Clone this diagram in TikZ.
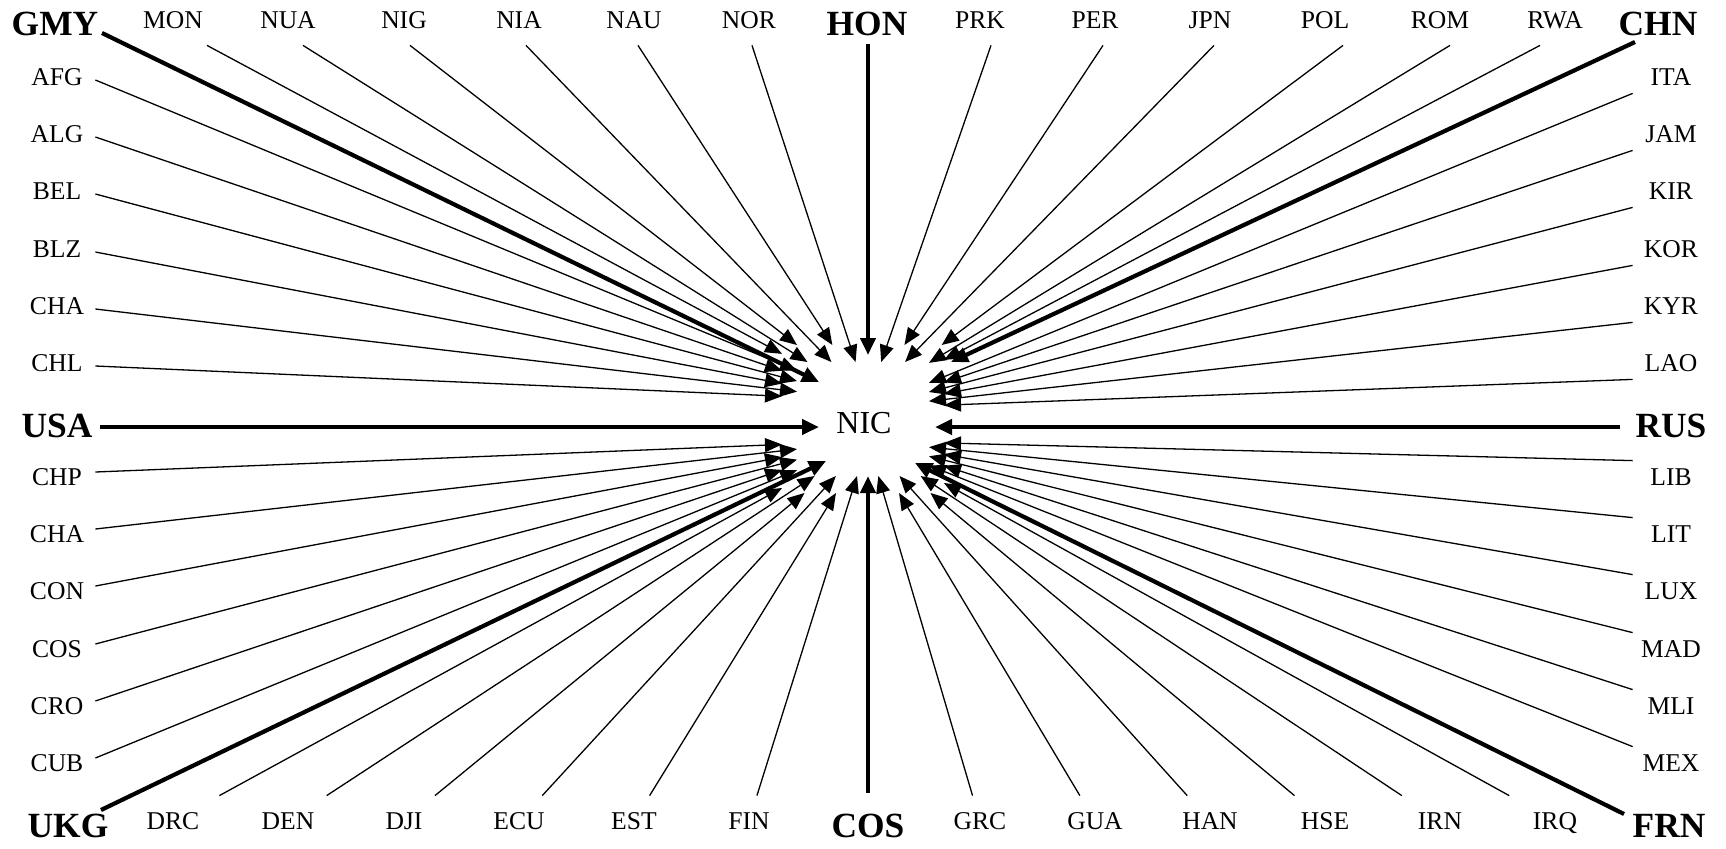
\documentclass[tikz,border=0pt]{standalone}
\usepackage{fontspec}
\setmainfont{Liberation Serif}
\usetikzlibrary{arrows.meta,calc,intersections}

% one spoke: from a start point towards an aim point, cut where it meets the given ring round NIC
\newcommand\spoke[4]{%
  \path[name path=spk] (#2) -- (#3);
  \path[name intersections={of=#4 and spk,by=tip}];
  \draw[spokeline,#1] (#2) -- (tip);
}

\begin{document}
\begin{tikzpicture}[x=0.5pt,y=-0.5pt,
  lbl/.style={font=\fontsize{12.8pt}{15pt}\selectfont, inner sep=0pt, text height=8.5pt, text depth=0pt},
  side/.style={lbl, minimum width=38pt, minimum height=16pt},
  rowlbl/.style={lbl, minimum width=60pt, minimum height=25pt},
  big/.style={font=\fontsize{17.7pt}{20pt}\selectfont\bfseries, inner sep=0pt, text height=11.7pt, text depth=0pt},
  spokeline/.style={line width=0.65pt, -{Triangle[length=8.5pt,width=7pt]}},
  heavy/.style={line width=2.1pt, -{Triangle[length=8.5pt,width=7.5pt]}}]

\useasboundingbox (0,0) rectangle (1726,848);

% centre and the two rings where the arrow tips stop
\node[font=\fontsize{16pt}{19pt}\selectfont, inner sep=0pt] (NIC) at (864,423) {NIC};
\path[name path=ringIn]  (797,362) rectangle (929,476);
\path[name path=ringOut] (782,345) rectangle (944,493);
\coordinate (aimT) at (868,400);
\coordinate (aimR) at (868,408);
\coordinate (aimB) at (868,441);

% bold corner and axis labels
\node[big] (GMY) at (55,24) {GMY};
\node[big] (HON) at (867,24) {HON};
\node[big] (CHN) at (1658,24) {CHN};
\node[big] (USA) at (57,426) {USA};
\node[big] (RUS) at (1671,426) {RUS};
\node[big] (UKG) at (68,826) {UKG};
\node[big] (COSb) at (868,826) {COS};
\node[big] (FRN) at (1669,826) {FRN};

% left column
\node[side] (AFG)  at (57,77)  {AFG};
\node[side] (ALG)  at (57,134) {ALG};
\node[side] (BEL)  at (57,191) {BEL};
\node[side] (BLZ)  at (57,249) {BLZ};
\node[side] (CHAa) at (57,306) {CHA};
\node[side] (CHL)  at (57,363) {CHL};
\node[side] (CHP)  at (57,477) {CHP};
\node[side] (CHAb) at (57,534) {CHA};
\node[side] (CON)  at (57,591) {CON};
\node[side] (COSa) at (57,649) {COS};
\node[side] (CRO)  at (57,706) {CRO};
\node[side] (CUB)  at (57,763) {CUB};

% right column
\node[side] (ITA) at (1671,77)  {ITA};
\node[side] (JAM) at (1671,134) {JAM};
\node[side] (KIR) at (1671,191) {KIR};
\node[side] (KOR) at (1671,249) {KOR};
\node[side] (KYR) at (1671,306) {KYR};
\node[side] (LAO) at (1671,363) {LAO};
\node[side] (LIB) at (1671,477) {LIB};
\node[side] (LIT) at (1671,534) {LIT};
\node[side] (LUX) at (1671,591) {LUX};
\node[side] (MAD) at (1671,649) {MAD};
\node[side] (MLI) at (1671,706) {MLI};
\node[side] (MEX) at (1671,763) {MEX};

% top row
\node[rowlbl] (MON) at (173,20)  {MON};
\node[rowlbl] (NUA) at (288,20)  {NUA};
\node[rowlbl] (NIG) at (404,20)  {NIG};
\node[rowlbl] (NIA) at (519,20)  {NIA};
\node[rowlbl] (NAU) at (634,20)  {NAU};
\node[rowlbl] (NOR) at (749,20)  {NOR};
\node[rowlbl] (PRK) at (980,20)  {PRK};
\node[rowlbl] (PER) at (1095,20) {PER};
\node[rowlbl] (JPN) at (1210,20) {JPN};
\node[rowlbl] (POL) at (1325,20) {POL};
\node[rowlbl] (ROM) at (1440,20) {ROM};
\node[rowlbl] (RWA) at (1555,20) {RWA};

% bottom row
\node[rowlbl] (DRC) at (173,821)  {DRC};
\node[rowlbl] (DEN) at (288,821)  {DEN};
\node[rowlbl] (DJI) at (404,821)  {DJI};
\node[rowlbl] (ECU) at (519,821)  {ECU};
\node[rowlbl] (EST) at (634,821)  {EST};
\node[rowlbl] (FIN) at (749,821)  {FIN};
\node[rowlbl] (GRC) at (980,821)  {GRC};
\node[rowlbl] (GUA) at (1095,821) {GUA};
\node[rowlbl] (HAN) at (1210,821) {HAN};
\node[rowlbl] (HSE) at (1325,821) {HSE};
\node[rowlbl] (IRN) at (1440,821) {IRN};
\node[rowlbl] (IRQ) at (1555,821) {IRQ};

% thin spokes
\foreach \n/\r in {AFG/ringIn,ALG/ringOut,BEL/ringIn,BLZ/ringOut,CHAa/ringIn,CHL/ringOut}
  {\spoke{}{[yshift=-1.5pt]\n.east}{aimT}{\r}}
\foreach \n/\r in {CHP/ringOut,CHAb/ringIn,CON/ringOut,COSa/ringIn,CRO/ringOut,CUB/ringIn}
  {\spoke{}{[yshift=2.5pt]\n.east}{aimB}{\r}}
\foreach \n/\r in {ITA/ringIn,JAM/ringOut,KIR/ringIn,KOR/ringOut,KYR/ringIn,LAO/ringOut}
  {\spoke{}{\n.south west}{aimR}{\r}}
\foreach \n/\r in {LIB/ringOut,LIT/ringIn,LUX/ringOut,MAD/ringIn,MLI/ringOut,MEX/ringIn}
  {\spoke{}{\n.north west}{aimB}{\r}}
\foreach \n/\dx/\r in {MON/17pt/ringOut,NUA/7.5pt/ringIn,NIG/3pt/ringOut,NIA/3.5pt/ringIn,
    NAU/2pt/ringOut,NOR/1.5pt/ringIn,PRK/5.5pt/ringIn,PER/4pt/ringOut,JPN/2pt/ringIn,
    POL/9pt/ringOut,ROM/5pt/ringIn,RWA/-7.5pt/ringOut}
  {\spoke{}{[xshift=\dx]\n.south}{aimT}{\r}}
\foreach \n/\r in {DRC/ringOut,DEN/ringIn,DJI/ringOut,ECU/ringIn,EST/ringOut,FIN/ringIn,
    GRC/ringIn,GUA/ringOut,HAN/ringIn,HSE/ringOut,IRN/ringIn,IRQ/ringOut}
  {\spoke{}{\n}{aimB}{\r}}

% heavy spokes, each with its own tip
\coordinate (tGMY) at (819,382);
\coordinate (tCHN) at (951,362);
\coordinate (tHON) at (868,355);
\coordinate (tUSA) at (819,427);
\coordinate (tRUS) at (935,427);
\coordinate (tUKG) at (826,461);
\coordinate (tCOS) at (868,476);
\coordinate (tFRN) at (915,463);
\draw[spokeline,heavy] ($(GMY)+(47,9)$)    -- (tGMY);
\draw[spokeline,heavy] ($(CHN)+(-23,18)$)  -- (tCHN);
\draw[spokeline,heavy] ($(HON)+(1,20)$)    -- (tHON);
\draw[spokeline,heavy] ($(USA)+(43,1)$)    -- (tUSA);
\draw[spokeline,heavy] ($(RUS)+(-51,1)$)   -- (tRUS);
\draw[spokeline,heavy] ($(UKG)+(33,-16)$)  -- (tUKG);
\draw[spokeline,heavy] ($(COSb)+(0,-33)$)  -- (tCOS);
\draw[spokeline,heavy] ($(FRN)+(-45,-12)$) -- (tFRN);
\end{tikzpicture}
\end{document}
